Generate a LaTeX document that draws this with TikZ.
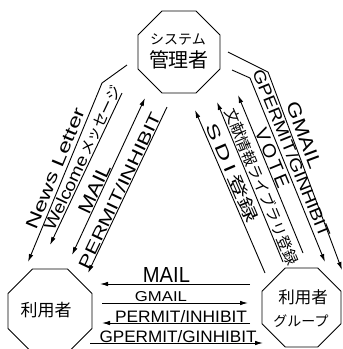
\documentclass[tikz,border=0pt]{standalone}
\usepackage{graphicx}
\usepackage{fontspec}
\setmainfont{Liberation Sans}
\newfontfamily\jp{Noto Sans CJK JP}
\usetikzlibrary{shapes.geometric,arrows.meta}
\newcommand{\fitbox}[3]{\resizebox{#1pt}{#2pt}{#3}}
\begin{document}
\begin{tikzpicture}[x=1pt,y=1pt,
  oct/.style={draw, line width=0.9pt, regular polygon, regular polygon sides=8, inner sep=0pt},
  conn/.style={line width=0.9pt},
  tip/.style={-{Latex[length=8pt,width=4.5pt]}},
  tipboth/.style={{Latex[length=8pt,width=4.5pt]}-{Latex[length=8pt,width=4.5pt]}},
  lab/.style={sloped, anchor=south, inner xsep=0pt, outer sep=0pt},
  txt/.style={inner sep=0pt},
]
\useasboundingbox (0,0) rectangle (343,-349);
\fill[white] (0,0) rectangle (343,-349);

% octagons
\node[oct, minimum size=88.8pt] (sys) at (179,-52) {};
\node[oct, minimum size=91pt] (usr) at (50,-311) {};
\node[oct, minimum size=85.5pt] (grp) at (301.5,-307.5) {};

\node[txt] (sysA) at (178,-39) {\jp\fontsize{14}{14}\selectfont システム};
\node[txt] (sysB) at (179,-60) {\jp\fontsize{20}{20}\selectfont 管理者};
\node[txt] (usrT) at (46,-310) {\jp\fontsize{17}{17}\selectfont 利用者};
\node[txt] (grpA) at (303,-297) {\jp\fontsize{16.5}{16.5}\selectfont 利用者};
\node[txt] (grpB) at (301,-321) {\jp\fontsize{14}{14}\selectfont グループ};

% left side: system <-> user
\coordinate (n1) at (127,-65); \coordinate (n2) at (102,-83); \coordinate (n3) at (28,-262);
\draw[conn,tip] (n1) -- (n2) -- (n3) node[lab,pos=0.5,inner ysep=4pt] (lNews) {\fitbox{130}{12}{News Letter}};

\coordinate (w1) at (122,-93); \coordinate (w2) at (50,-245);
\draw[conn,tip] (w1) -- (w2) node[lab,pos=0.45,inner ysep=1pt] (lWel) {\fitbox{81}{12}{Welcome}\hspace{2pt}\fitbox{75}{12}{\jp メッセージ}};

\coordinate (m1) at (145,-98); \coordinate (m2) at (72,-255);
\draw[conn,tipboth] (m1) -- (m2) node[lab,pos=0.6,inner ysep=1pt] (lMail) {\fitbox{53}{13}{MAIL}};

\coordinate (p1) at (167,-107); \coordinate (p2) at (88,-273);
\draw[conn,tip] (p1) -- (p2) node[lab,pos=0.52,inner ysep=1pt] (lPerm) {\fitbox{171}{12}{PERMIT/INHIBIT}};

% right side: system <-> group
\coordinate (g1) at (228,-52); \coordinate (g2) at (268,-72); \coordinate (g3) at (342,-270);
\draw[conn,tip] (g1) -- (g2) -- (g3) node[lab,pos=0.34,inner ysep=5pt] (rGmail) {\fitbox{70}{13}{GMAIL}};

\coordinate (q1) at (232,-70); \coordinate (q2) at (250,-78); \coordinate (q3) at (325,-262);
\draw[conn,tip] (q1) -- (q2) -- (q3) node[lab,pos=0.43,inner ysep=4pt] (rGperm) {\fitbox{180}{12}{GPERMIT/GINHIBIT}};

\coordinate (v1) at (238,-95); \coordinate (v2) at (303,-253);
\draw[conn,tip] (v2) -- (v1) node[lab,pos=0.58,inner ysep=1pt] (rVote) {\fitbox{63}{13}{V\,O\,T\,E}};

\coordinate (b1) at (217,-102); \coordinate (b2) at (283,-262);
\draw[conn,tip] (b2) -- (b1) node[lab,pos=0.45,inner ysep=2pt] (rLib) {\fitbox{168}{13}{\jp 文献情報ライブラリ登録}};

\coordinate (s1) at (195,-110); \coordinate (s2) at (265,-273);
\draw[conn,tip] (s2) -- (s1) node[lab,pos=0.59,inner ysep=2pt] (rSdi) {\fitbox{106}{14}{S\,D\,I\,{\jp 登録}}};

% bottom: user <-> group
\coordinate (bm1) at (250,-284); \coordinate (bm2) at (100,-284);
\draw[conn,tip] (bm1) -- (bm2) node[lab,pos=0.557,inner ysep=2pt] (bMail) {\fitbox{47}{15}{MAIL}};
\coordinate (bg1) at (102,-303); \coordinate (bg2) at (248,-303);
\draw[conn,tip] (bg1) -- (bg2) node[lab,pos=0.404,inner ysep=1pt] (bGmail) {\fitbox{52}{10}{GMAIL}};
\coordinate (bp1) at (250,-323); \coordinate (bp2) at (102,-323);
\draw[conn,tip] (bp1) -- (bp2) node[lab,pos=0.466,inner ysep=0.5pt] (bPerm) {\fitbox{132}{12}{PERMIT/INHIBIT}};
\coordinate (bq1) at (90,-343); \coordinate (bq2) at (263,-343);
\draw[conn,tip] (bq1) -- (bq2) node[lab,pos=0.509,inner ysep=0.5pt] (bGperm) {\fitbox{157}{12}{GPERMIT/GINHIBIT}};
\end{tikzpicture}
\end{document}
